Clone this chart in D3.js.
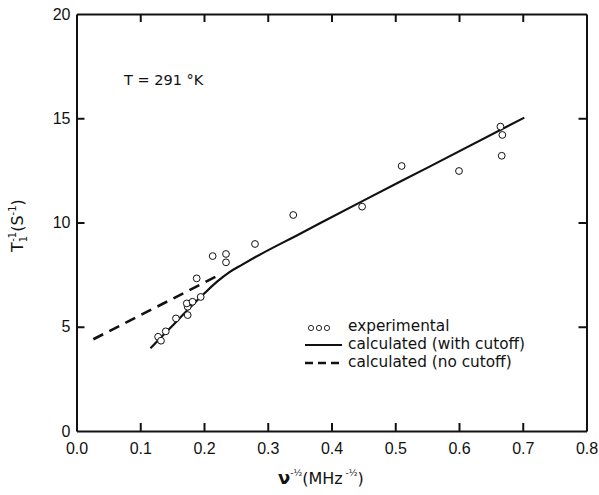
<!DOCTYPE html>
<html>
<head>
<meta charset="utf-8">
<script src="https://cdn.jsdelivr.net/npm/d3@7"></script>
<style>
  body { margin: 0; background: #fff; }
  svg { font-family: "DejaVu Sans", sans-serif; }
</style>
</head>
<body>
<svg></svg>
<script>
// tick values
const xTicks = [0.0, 0.1, 0.2, 0.3, 0.4, 0.5, 0.6, 0.7, 0.8];
const yTicks = [0, 5, 10, 15, 20];
const yMarks = [5, 10, 15];

// experimental points (nu^-1/2, T1^-1)
const expX = [0.128, 0.1325, 0.140, 0.156, 0.1744, 0.1744, 0.173, 0.182, 0.1948, 0.1885,
              0.2136, 0.2345, 0.2345, 0.280, 0.340, 0.448, 0.510, 0.600, 0.665, 0.668, 0.667];
const expY = [4.52, 4.33, 4.78, 5.40, 5.56, 5.96, 6.12, 6.20, 6.43, 7.32,
              8.39, 8.49, 8.09, 8.97, 10.36, 10.76, 12.71, 12.47, 14.6, 14.2, 13.2];

// calculated, with cutoff
const cutX = [0.116, 0.14, 0.16, 0.18, 0.20, 0.22, 0.24, 0.26, 0.28, 0.35, 0.45, 0.55, 0.7025];
const cutY = [3.97, 4.72, 5.35, 5.98, 6.58, 7.15, 7.62, 7.98, 8.33, 9.45, 11.05, 12.62, 15.03];

// calculated, no cutoff
const noCutX = [0.0264, 0.2267];
const noCutY = [4.40, 7.53];

const svgWidth = 599, svgHeight = 495;
const svg = d3.select("svg")
    .attr("width", svgWidth)
    .attr("height", svgHeight);

const x = d3.scaleLinear().domain([0, 0.8]).range([76.5, 586.5]);
const y = d3.scaleLinear().domain([0, 20]).range([431, 14]);

const fs = 16;

function styleAxis(g) {
    g.select(".domain").attr("stroke", "#111").attr("stroke-width", 2);
    g.selectAll(".tick line").attr("stroke", "#111").attr("stroke-width", 2);
    g.selectAll(".tick text").attr("fill", "#111").attr("font-size", fs);
}

// bottom
svg.append("g")
    .attr("transform", "translate(0," + y(0) + ")")
    .call(d3.axisBottom(x).tickValues(xTicks).tickFormat(d3.format(".1f"))
        .tickSizeInner(-8).tickSizeOuter(0).tickPadding(12))
    .call(styleAxis);

// top
svg.append("g")
    .attr("transform", "translate(0," + y(20) + ")")
    .call(d3.axisTop(x).tickValues(xTicks.slice(1, -1)).tickFormat("")
        .tickSizeInner(-8).tickSizeOuter(0))
    .call(styleAxis);

// left
const left = svg.append("g")
    .attr("transform", "translate(" + x(0) + ",0)")
    .call(d3.axisLeft(y).tickValues(yTicks).tickFormat(d3.format("d"))
        .tickSizeInner(-8).tickSizeOuter(0).tickPadding(6))
    .call(styleAxis);
left.selectAll(".tick line").filter(d => yMarks.indexOf(d) < 0).remove();

// right
svg.append("g")
    .attr("transform", "translate(" + x(0.8) + ",0)")
    .call(d3.axisRight(y).tickValues(yMarks).tickFormat("")
        .tickSizeInner(-8).tickSizeOuter(0))
    .call(styleAxis);

// lines
const cutData = cutX.map((v, i) => [v, cutY[i]]);
const noCutData = noCutX.map((v, i) => [v, noCutY[i]]);

const line = d3.line()
    .x(d => x(d[0]))
    .y(d => y(d[1]))
    .curve(d3.curveMonotoneX);

svg.append("path")
    .datum(cutData)
    .attr("fill", "none")
    .attr("stroke", "#111")
    .attr("stroke-width", 2.2)
    .attr("d", line);

svg.append("path")
    .datum(noCutData)
    .attr("fill", "none")
    .attr("stroke", "#111")
    .attr("stroke-width", 2.6)
    .attr("stroke-dasharray", "11,7")
    .attr("d", line);

// points
svg.append("g")
    .selectAll("circle")
    .data(expX.map((v, i) => [v, expY[i]]))
    .join("circle")
    .attr("cx", d => x(d[0]))
    .attr("cy", d => y(d[1]))
    .attr("r", 3.4)
    .attr("fill", "#fff")
    .attr("stroke", "#111")
    .attr("stroke-width", 1);

// temperature note
svg.append("text")
    .attr("x", 124)
    .attr("y", 85)
    .attr("font-size", 14.5)
    .attr("fill", "#111")
    .text("T = 291 °K");

// legend
const lg = svg.append("g").attr("fill", "#111").attr("font-size", 15.3);
[0, 1, 2].forEach(i => {
    lg.append("circle")
        .attr("cx", 311 + i * 8).attr("cy", 328).attr("r", 2.6)
        .attr("fill", "#fff").attr("stroke", "#111").attr("stroke-width", 0.9);
});
lg.append("text").attr("x", 348).attr("y", 331).text("experimental");
lg.append("line")
    .attr("x1", 305).attr("x2", 342).attr("y1", 345).attr("y2", 345)
    .attr("stroke", "#111").attr("stroke-width", 2);
lg.append("text").attr("x", 348).attr("y", 349).text("calculated (with cutoff)");
lg.append("line")
    .attr("x1", 305).attr("x2", 343).attr("y1", 363).attr("y2", 363)
    .attr("stroke", "#111").attr("stroke-width", 2.4)
    .attr("stroke-dasharray", "8,5");
lg.append("text").attr("x", 348).attr("y", 367).text("calculated (no cutoff)");

// axis titles
const xt = svg.append("text")
    .attr("x", 278)
    .attr("y", 484)
    .attr("font-size", fs)
    .attr("fill", "#111");
xt.append("tspan").attr("font-weight", "bold").attr("font-size", 18).text("ν");
xt.append("tspan").attr("font-size", 9).attr("dy", -8).text("-½");
xt.append("tspan").attr("dy", 8).text("(MHz");
xt.append("tspan").attr("font-size", 9).attr("dy", -8).text(" -½");
xt.append("tspan").attr("dy", 8).text(")");

const yt = svg.append("text")
    .attr("transform", "translate(23,252) rotate(-90)")
    .attr("font-size", fs)
    .attr("fill", "#111");
yt.append("tspan").text("T");
yt.append("tspan").attr("font-size", 10).attr("dy", 4).text("1");
yt.append("tspan").attr("font-size", 10).attr("dy", -11).attr("dx", -6).text("-1");
yt.append("tspan").attr("dy", 7).text("(S");
yt.append("tspan").attr("font-size", 10).attr("dy", -7).text("-1");
yt.append("tspan").attr("dy", 7).text(")");
</script>
</body>
</html>
